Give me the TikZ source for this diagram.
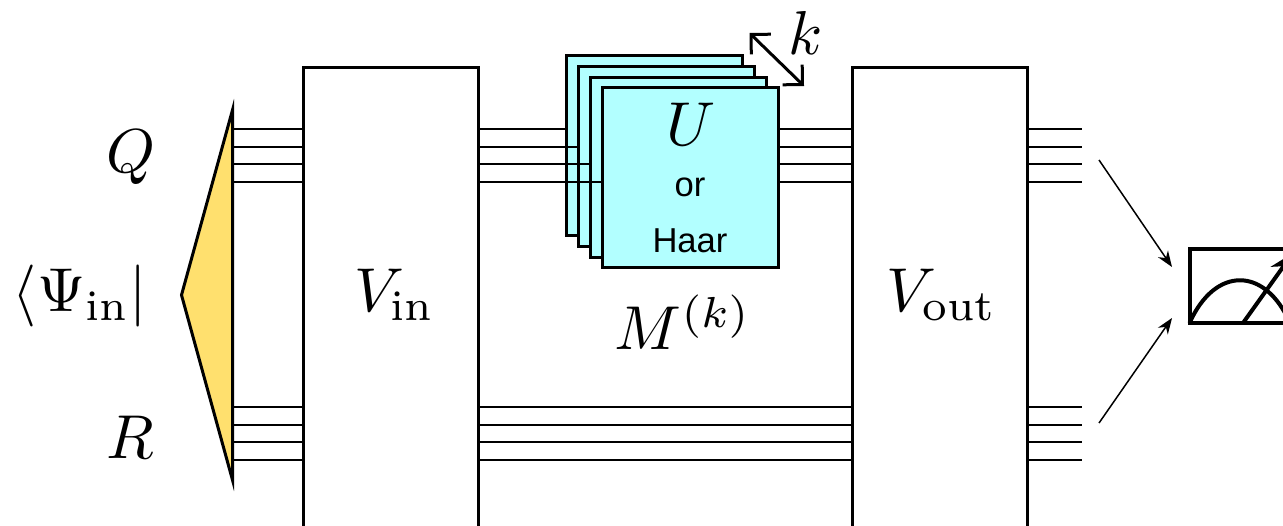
\documentclass[tikz,border=0pt]{standalone}
\usepackage{amsmath}
\usepackage{fontspec}
\newfontfamily\haarfont{Liberation Sans}
\usetikzlibrary{arrows.meta}

\definecolor{cardcyan}{RGB}{178,255,255}
\definecolor{stateyellow}{RGB}{255,224,110}

\tikzset{
    wire/.style={black, line width=0.85pt},
    gatebox/.style={draw, fill=white, line width=1.5pt, anchor=north, minimum width=87.5pt, minimum height=250pt, inner sep=0pt, outer sep=0pt},
    card/.style={draw, fill=cardcyan, line width=1.5pt, minimum width=88pt, minimum height=90pt, inner sep=0pt, outer sep=0pt},
    mathlabel/.style={inner sep=0pt, scale=3.1},
    cardlabel/.style={inner sep=0pt, font=\haarfont\fontsize{17.3}{20}\selectfont},
    feed/.style={-{Stealth[length=8pt,width=6pt]}, line width=0.75pt}
}

\begin{document}
\begin{tikzpicture}[x=0.5pt,y=-0.5pt]
    \useasboundingbox (0,0) rectangle (1283,525);
    \clip (0,0) rectangle (1283,525);

    % Wires
    \foreach \w/\y in {1/129,2/147,3/164,4/182} {
        \coordinate (qL\w) at (233,\y);
        \coordinate (qR\w) at (1082,\y);
        \draw[wire] (qL\w) -- (qR\w);
    }
    \foreach \w/\y in {1/407,2/425,3/442,4/460} {
        \coordinate (rL\w) at (233,\y);
        \coordinate (rR\w) at (1082,\y);
        \draw[wire] (rL\w) -- (rR\w);
    }

    % Input state
    \draw[fill=stateyellow, line width=1.5pt] (181.5,295) -- (232.5,110) -- (232.5,480) -- cycle;

    % Boxes
    \node[gatebox] (vinbox) at (390.5,67) {};
    \node[gatebox] (voutbox) at (939.5,67) {};

    % Stack of cards, wires run over the cards behind
    \foreach \c/\x/\y/\others in {1/654/145/{2,3,4},2/666/156/{3,4},3/678/167/{4}} {
        \node[card] (card\c) at (\x,\y) {};
        \foreach \w in \others
            \draw[wire] (card\c.west |- qL\w) -- (card\c.east |- qL\w);
    }
    \node[card] (card4) at (690,177.5) {};

    % Labels
    \node[mathlabel] (ulabel) at (691,124) {$U$};
    \node[cardlabel] (orlabel) at (690,187) {or};
    \node[cardlabel] (haarlabel) at (690,241) {Haar};
    \node[mathlabel] (mlabel) at (683,322) {$M^{(k)}$};
    \node[mathlabel] (klabel) at (806,33) {$k$};
    \node[mathlabel] (qlabel) at (131,157) {$Q$};
    \node[mathlabel] (rlabel) at (130,437) {$R$};
    \node[mathlabel] (psilabel) at (80,296) {$\langle\Psi_{\mathrm{in}}|$};
    \node[mathlabel] (vinlabel) at (395,295) {$V_{\mathrm{in}}$};
    \node[mathlabel] (voutlabel) at (942,295) {$V_{\mathrm{out}}$};

    % Size of the stack
    \coordinate (kstart) at (749.5,33);
    \coordinate (kend) at (804,86);
    \draw[{Straight Barb[length=7pt,width=14pt]}-{Straight Barb[length=7pt,width=14pt]}, line width=1.5pt] (kstart) -- (kend);

    % Meter
    \node[draw, line width=2pt, anchor=north west, minimum width=80pt, minimum height=37pt, inner sep=0pt, outer sep=0pt] (meter) at (1189.5,249) {};
    \draw[line width=2pt] (meter.south west) .. controls (1215,266) and (1265,266) .. (1290,323);
    \coordinate (needlestart) at (1243,323);
    \coordinate (needletip) at (1293,253);
    \draw[-{Stealth[length=12pt,width=10pt]}, line width=2pt] (needlestart) -- (needletip);

    % Feeds into the meter
    \coordinate (feedqstart) at (1099,160);
    \coordinate (feedqend) at (1172,267);
    \coordinate (feedrstart) at (1099,423);
    \coordinate (feedrend) at (1172,318);
    \draw[feed] (feedqstart) -- (feedqend);
    \draw[feed] (feedrstart) -- (feedrend);
\end{tikzpicture}
\end{document}
